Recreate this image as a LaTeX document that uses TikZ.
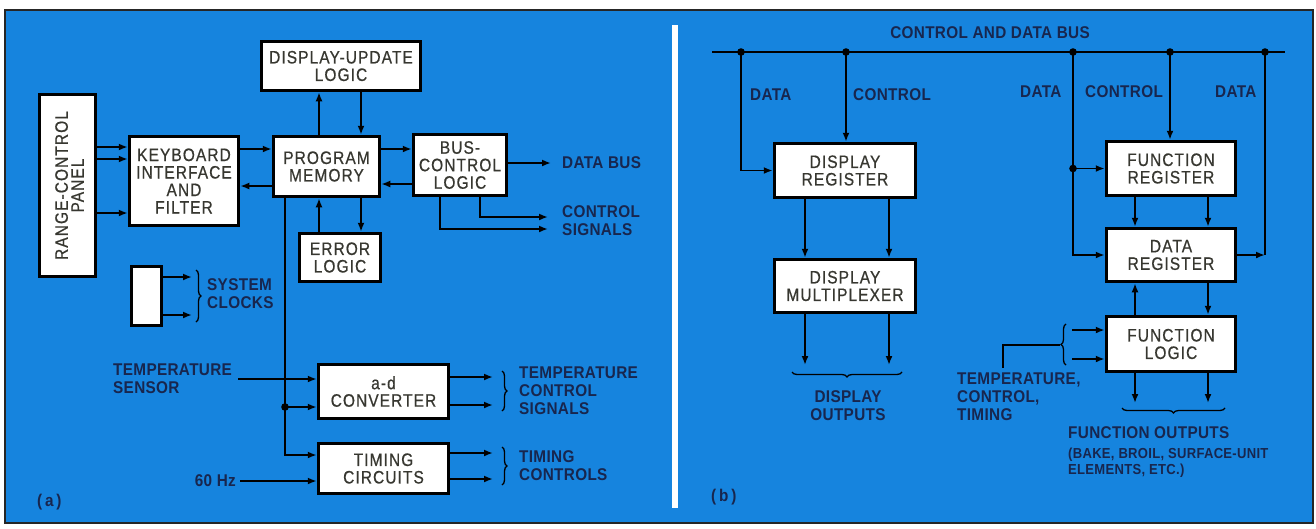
\documentclass[tikz,border=0pt]{standalone}
\usepackage{fontspec}
\setmainfont{Liberation Sans}
\newfontfamily\boxfont[FakeStretch=0.86,LetterSpace=6,FakeBold=0.6]{Liberation Sans}
\newfontfamily\lblfont[FakeStretch=0.9,LetterSpace=2]{Liberation Sans}
\usetikzlibrary{arrows.meta,calc,decorations.pathreplacing}
\definecolor{panelblue}{RGB}{22,132,222}
\definecolor{boxtext}{RGB}{55,55,48}
\definecolor{lbltext}{RGB}{24,38,78}
\begin{document}
\begin{tikzpicture}[x=1pt,y=-1pt,
 line/.style={line width=1.8pt, draw=black},
 arr/.style={line, -{Latex[length=9pt,width=7pt]}},
 blk/.style={draw=black, line width=3.5pt, fill=white, inner sep=0pt, align=center,
   font=\boxfont\fontsize{18}{17.5}\selectfont, text=boxtext},
 btxt/.style={inner sep=0pt, align=center, font=\boxfont\fontsize{18}{16}\selectfont, text=boxtext},
 lbl/.style={inner sep=0pt, align=left, font=\lblfont\bfseries\fontsize{17}{18}\selectfont, text=lbltext},
 small/.style={inner sep=0pt, align=left, font=\lblfont\bfseries\fontsize{14.5}{15.5}\selectfont, text=lbltext},
 brc/.style={line width=1.3pt, draw=black, decorate, decoration={brace, amplitude=5pt}},
]
\useasboundingbox (0,0) rectangle (1316,528);
\fill[white] (0,0) rectangle (1316,528);
\draw[fill=panelblue, line width=2.5pt, draw=black!85] (5,10) rectangle (1313,523);
\draw[white, line width=6pt] (675,25) -- (675,508);

% ---------------- panel (a) ----------------
\node[blk, minimum width=56, minimum height=182] (rcp) at (67.5,185.5) {};
\node[btxt, rotate=90] (rcptxt) at (69.5,185.5) {RANGE-CONTROL\\PANEL};
\node[blk, minimum width=109, minimum height=89] (kbd) at (184,181) {KEYBOARD\\INTERFACE\\AND\\FILTER};
\node[blk, minimum width=159, minimum height=49] (dul) at (341,66) {DISPLAY-UPDATE\\LOGIC};
\node[blk, minimum width=106, minimum height=60] (pm) at (326.5,166.5) {PROGRAM\\MEMORY};
\node[blk, minimum width=93, minimum height=61] (bcl) at (460,165) {BUS-\\CONTROL\\LOGIC};
\node[blk, minimum width=81, minimum height=48] (el) at (340,257.5) {ERROR\\LOGIC};
\node[blk, minimum width=30, minimum height=59] (clk) at (146.5,296) {};
\node[blk, minimum width=130, minimum height=54] (adc) at (383.5,391.5) {a-d\\CONVERTER};
\node[blk, minimum width=130, minimum height=50] (tim) at (383.5,468.5) {TIMING\\CIRCUITS};

\coordinate (h147) at (0,147);
\coordinate (h159) at (0,159);
\coordinate (h213) at (0,213);
\coordinate (h149) at (0,149);
\coordinate (h186) at (0,186);
\coordinate (h184) at (0,184);
\coordinate (h455) at (0,455);
\coordinate (v319) at (319,0);
\coordinate (v361) at (361,0);
\coordinate (v285) at (285,0);
\coordinate (v480) at (480,0);
\coordinate (v440) at (440,0);

\draw[arr] (rcp.east |- h147) -- (kbd.west |- h147);
\draw[arr] (rcp.east |- h159) -- (kbd.west |- h159);
\draw[arr] (rcp.east |- h213) -- (kbd.west |- h213);
\draw[arr] (kbd.east |- h149) -- (pm.west |- h149);
\draw[arr] (pm.west |- h186) -- (kbd.east |- h186);
\draw[arr] (v319 |- pm.north) -- (v319 |- dul.south);
\draw[arr] (v361 |- dul.south) -- (v361 |- pm.north);
\draw[arr] (pm.east |- h149) -- (bcl.west |- h149);
\draw[arr] (bcl.west |- h184) -- (pm.east |- h184);
\draw[arr] (v319 |- el.north) -- (v319 |- pm.south);
\draw[arr] (v361 |- pm.south) -- (v361 |- el.north);

\coordinate (dbus) at (551,163);
\draw[arr] (bcl.east |- dbus) -- (dbus);
\node[lbl, anchor=west] (dbuslbl) at (562,163) {DATA BUS};
\coordinate (cs1) at (548,217);
\coordinate (cs2) at (548,229);
\draw[arr] (v480 |- bcl.south) |- (cs1);
\draw[arr] (v440 |- bcl.south) |- (cs2);
\node[lbl, anchor=west] (cslbl) at (562,221) {CONTROL\\SIGNALS};

\coordinate (junc) at (285,407);
\draw[arr] (v285 |- pm.south) |- (tim.west |- h455);
\fill (junc) circle (3.8);
\draw[arr] (junc) -- (adc.west |- junc);

\coordinate (ts) at (238,379);
\draw[arr] (ts) -- (adc.west |- ts);
\node[lbl, anchor=north west] (tslbl) at (113,364) {TEMPERATURE\\SENSOR};
\coordinate (hz) at (240,481);
\draw[arr] (hz) -- (tim.west |- hz);
\node[lbl, anchor=east] (hzlbl) at (236,481) {60 Hz};

\coordinate (ao1) at (493,377);
\coordinate (ao2) at (493,405);
\draw[arr] (adc.east |- ao1) -- (ao1);
\draw[arr] (adc.east |- ao2) -- (ao2);
\draw[brc] (502,371) -- (502,411);
\node[lbl, anchor=west] (tcslbl) at (519,391) {TEMPERATURE\\CONTROL\\SIGNALS};

\coordinate (to1) at (493,453);
\coordinate (to2) at (493,479);
\draw[arr] (tim.east |- to1) -- (to1);
\draw[arr] (tim.east |- to2) -- (to2);
\draw[brc] (502,447) -- (502,485);
\node[lbl, anchor=west] (tclbl) at (519,466) {TIMING\\CONTROLS};

\coordinate (co1) at (192,277);
\coordinate (co2) at (192,315);
\draw[arr] (clk.east |- co1) -- (co1);
\draw[arr] (clk.east |- co2) -- (co2);
\draw[brc] (196,270) -- (196,322);
\node[lbl, anchor=west] (sclbl) at (207,294) {SYSTEM\\CLOCKS};

\node[lbl, anchor=west] (alab) at (37,502) {(\,a\,)};

% ---------------- panel (b) ----------------
\coordinate (busL) at (712,52);
\coordinate (busR) at (1285,52);
\draw[line] (busL) -- (busR);
\node[lbl, anchor=center] (buslbl) at (990,33) {CONTROL AND DATA BUS};
\coordinate (b1) at (741,52);
\coordinate (b2) at (846,52);
\coordinate (b3) at (1073,52);
\coordinate (b4) at (1170,52);
\coordinate (b5) at (1265,52);
\foreach \p in {b1,b2,b3,b4,b5} \fill (\p) circle (3.8);

\node[blk, minimum width=141, minimum height=54] (dr) at (845,170.5) {DISPLAY\\REGISTER};
\node[blk, minimum width=141, minimum height=53] (dm) at (845,286) {DISPLAY\\MULTIPLEXER};
\node[blk, minimum width=129, minimum height=54] (fr) at (1171,168.5) {FUNCTION\\REGISTER};
\node[blk, minimum width=129, minimum height=53] (dreg) at (1171,255) {DATA\\REGISTER};
\node[blk, minimum width=129, minimum height=55] (fl) at (1171,344) {FUNCTION\\LOGIC};

\node[lbl, anchor=west] (dl1) at (750,95) {DATA};
\node[lbl, anchor=west] (cl1) at (853,95) {CONTROL};
\node[lbl, anchor=west] (dl2) at (1020,92) {DATA};
\node[lbl, anchor=west] (cl2) at (1085,92) {CONTROL};
\node[lbl, anchor=west] (dl3) at (1215,92) {DATA};

\draw[arr] (b1) |- (dr.west);
\draw[arr] (b2) -- (b2 |- dr.north);
\coordinate (v805) at (805,0);
\coordinate (v889) at (889,0);
\draw[arr] (v805 |- dr.south) -- (v805 |- dm.north);
\draw[arr] (v889 |- dr.south) -- (v889 |- dm.north);
\coordinate (do1) at (805,365);
\coordinate (do2) at (889,365);
\draw[arr] (v805 |- dm.south) -- (do1);
\draw[arr] (v889 |- dm.south) -- (do2);
\draw[brc] (902,372) -- (792,372);
\node[lbl, align=center, anchor=center] (dolbl) at (848,406) {DISPLAY\\OUTPUTS};

\draw[arr] (b3) |- (dreg.west);
\fill (b3 |- fr.west) circle (3.8);
\draw[arr] (b3 |- fr.west) -- (fr.west);
\draw[arr] (b4) -- (b4 |- fr.north);
\draw[line] (b5) -- (b5 |- dreg.east);
\draw[arr] (dreg.east) -- (b5 |- dreg.east);

\coordinate (v1135) at (1135,0);
\coordinate (v1208) at (1208,0);
\draw[arr] (v1135 |- fr.south) -- (v1135 |- dreg.north);
\draw[arr] (v1208 |- fr.south) -- (v1208 |- dreg.north);
\draw[arr] (v1135 |- fl.north) -- (v1135 |- dreg.south);
\draw[arr] (v1208 |- dreg.south) -- (v1208 |- fl.north);

\coordinate (fi1) at (1072,330);
\coordinate (fi2) at (1072,359);
\draw[arr] (fi1) -- (fl.west |- fi1);
\draw[arr] (fi2) -- (fl.west |- fi2);
\draw[brc] (1066,365) -- (1066,324);
\coordinate (ftip) at (1060,345);
\coordinate (fcorner) at (1003,345);
\coordinate (fend) at (1003,368);
\draw[line] (ftip) -- (fcorner) -- (fend);
\node[lbl, anchor=north west] (tctlbl) at (957,373) {TEMPERATURE,\\CONTROL,\\TIMING};

\coordinate (fo1) at (1135,403);
\coordinate (fo2) at (1208,403);
\draw[arr] (v1135 |- fl.south) -- (fo1);
\draw[arr] (v1208 |- fl.south) -- (fo2);
\draw[brc] (1225,408) -- (1122,408);
\node[lbl, anchor=west] (folbl) at (1068,433) {FUNCTION OUTPUTS};
\node[small, anchor=north west] (fosub) at (1068,448) {(BAKE, BROIL, SURFACE-UNIT\\ELEMENTS, ETC.)};

\node[lbl, anchor=west] (blab) at (711,497) {(\,b\,)};
\end{tikzpicture}
\end{document}
